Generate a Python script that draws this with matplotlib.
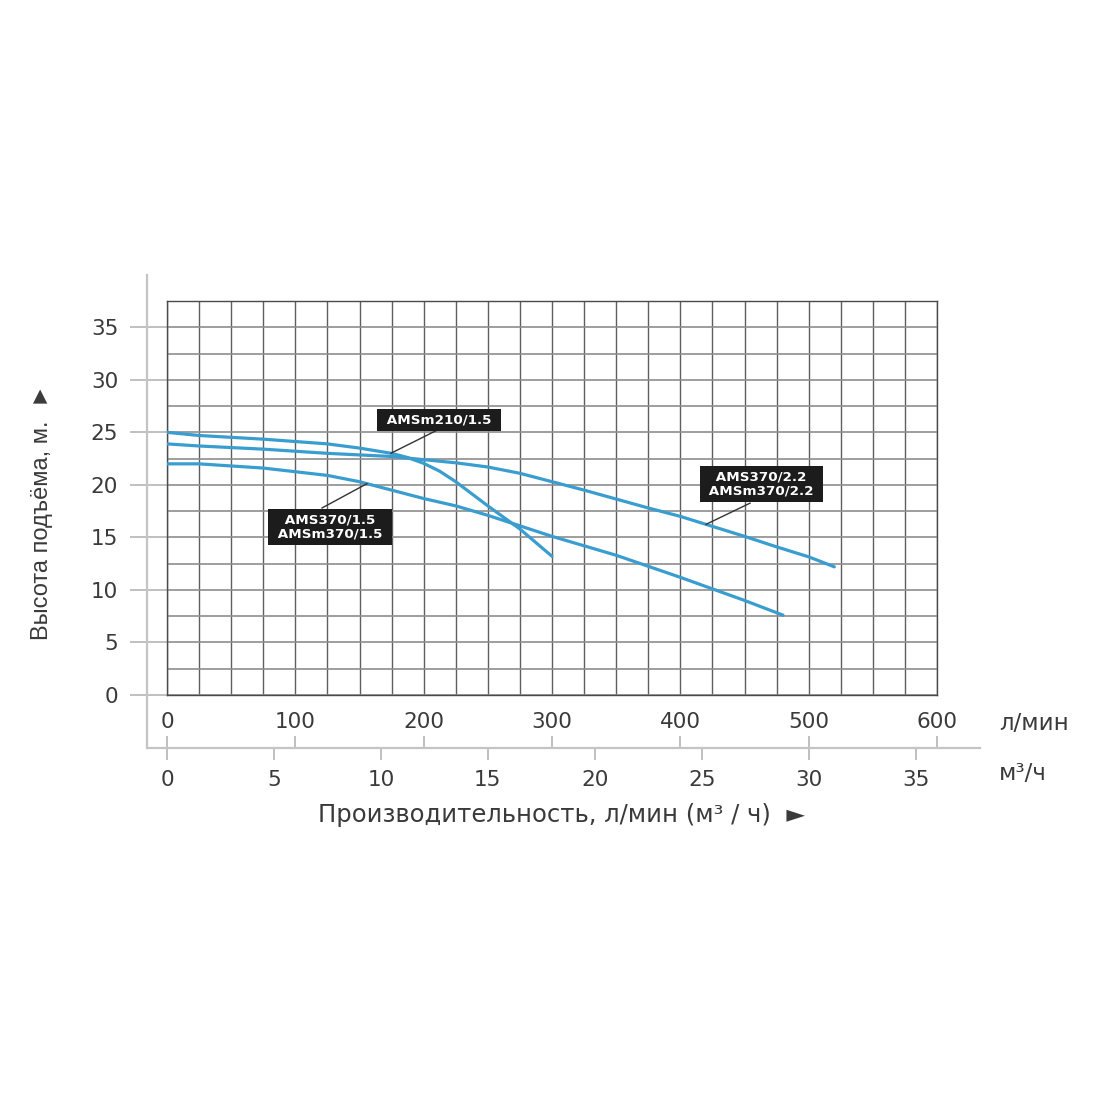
import numpy as np
import matplotlib
matplotlib.use("Agg")
import matplotlib.pyplot as plt
from matplotlib.lines import Line2D

plt.rcParams['font.family'] = ['DejaVu Sans']

# flow, l/min  and head, m
q_210_15 = [0, 25, 75, 125, 150, 175, 187.5, 200, 212.5, 225, 250, 275, 300]
h_210_15 = [25.0, 24.7, 24.35, 23.9, 23.5, 23.0, 22.6, 22.05, 21.3, 20.3, 18.0, 15.8, 13.2]

q_370_22 = [0, 25, 75, 125, 175, 225, 250, 275, 300, 325, 350, 375, 400, 425, 450, 475, 500, 520]
h_370_22 = [23.9, 23.7, 23.4, 23.0, 22.7, 22.1, 21.7, 21.1, 20.3, 19.5, 18.65, 17.8, 17.0,
            16.05, 15.1, 14.1, 13.15, 12.2]

q_370_15 = [0, 25, 75, 125, 150, 175, 200, 225, 250, 300, 350, 400, 450, 480]
h_370_15 = [22.0, 22.0, 21.6, 20.9, 20.3, 19.5, 18.7, 18.0, 17.1, 15.1, 13.3, 11.2, 9.0, 7.6]

lpm_ticks = [0, 100, 200, 300, 400, 500, 600]
m3h_ticks = [0, 5, 10, 15, 20, 25, 30, 35]
head_ticks = [0, 5, 10, 15, 20, 25, 30, 35]

labels = ["AMSm210/1.5", "AMS370/1.5\nAMSm370/1.5", "AMS370/2.2\nAMSm370/2.2"]

blue = '#3a9dd0'
txt = '#3a3a3a'

fig = plt.figure(figsize=(11, 11), dpi=100)
W = 1100.0

def fx(px):
    return px / W

def fy(py):
    return 1 - py / W

ax = fig.add_axes([fx(167), fy(695), fx(937) - fx(167), fy(301) - fy(695)])
ax.set_xlim(0, 600)
ax.set_ylim(0, 37.5)

ax.set_xticks(np.arange(0, 601, 25))
ax.set_yticks(head_ticks)
ax.set_yticks(np.arange(0, 37.6, 2.5), minor=True)
ax.tick_params(axis='x', length=0, labelbottom=False)
ax.tick_params(axis='y', which='major', length=26.6, width=1.2, color='#b5b5b5',
               pad=8.5, labelsize=15.5, labelcolor=txt)
ax.tick_params(axis='y', which='minor', length=0)
ax.grid(axis='x', color='#5e5e5e', lw=1.0)
ax.grid(axis='y', which='both', color='#8e8e8e', lw=1.2)
for s in ax.spines.values():
    s.set_color('#4a4a4a')
    s.set_linewidth(1.0)
ax.set_axisbelow(True)

# pump curves
for q, h in [(q_210_15, h_210_15), (q_370_22, h_370_22), (q_370_15, h_370_15)]:
    ax.plot(q, h, color=blue, lw=2.3, solid_capstyle='round', solid_joinstyle='round', zorder=3)

# callouts: box centre, leader start, curve x where leader ends
callouts = [
    (labels[0], (212, 26.16), (210.4, 25.2), 174.5, q_210_15, h_210_15),
    (labels[1], (127, 16.0), (120.8, 17.8), 155.8, q_370_15, h_370_15),
    (labels[2], (463, 20.07), (454.3, 18.26), 420, q_370_22, h_370_22),
]
for lab, c, start, qx, q, h in callouts:
    hy = np.interp(qx, q, h)
    ax.plot([start[0], qx], [start[1], hy], color='#333333', lw=1.0, zorder=4)
    lines = lab.split('\n')
    lab_txt = '\n'.join(' ' + s + ' ' for s in lines)
    ax.text(c[0], c[1], lab_txt, ha='center', va='center', color='white',
            fontsize=9.7, fontweight='bold', linespacing=1.05,
            bbox=dict(boxstyle='square,pad=0.33', fc='#1c1c1c', ec='none'), zorder=5)

# flow scales under the grid
x0 = (147 - 167) / (770 / 600)
x1 = (980 - 167) / (770 / 600)
ax2 = fig.add_axes([fx(147), fy(748), fx(980) - fx(147), 0.0001])
ax2.set_xlim(x0, x1)
ax2.set_ylim(0, 1)
ax2.patch.set_visible(False)
for k in ['left', 'right', 'top']:
    ax2.spines[k].set_visible(False)
ax2.spines['bottom'].set_color('#c4c4c4')
ax2.spines['bottom'].set_linewidth(1.6)
ax2.set_yticks([])
ax2.set_xticks([m * 1000 / 60 for m in m3h_ticks])
ax2.set_xticklabels([str(m) for m in m3h_ticks])
ax2.tick_params(axis='x', bottom=True, top=False, direction='out', length=8.6,
                width=1.2, color='#b5b5b5', pad=7, labelsize=15.5, labelcolor=txt)
sec = ax2.secondary_xaxis('top')
sec.set_xticks(lpm_ticks)
sec.set_xticklabels([str(v) for v in lpm_ticks])
sec.spines['top'].set_visible(False)
sec.tick_params(axis='x', direction='out', length=8.6, width=1.2, color='#b5b5b5',
                pad=3, labelsize=15.5, labelcolor=txt)

# left frame line
fig.add_artist(Line2D([fx(147), fx(147)], [fy(275), fy(748)], color='#c4c4c4', lw=1.6,
                      transform=fig.transFigure))

fig.text(fx(999), fy(724), 'л/мин', fontsize=16.5, color=txt, ha='left', va='center')
fig.text(fx(999), fy(773), 'м³/ч', fontsize=16.5, color=txt, ha='left', va='center')

fig.text(fx(561), fy(815), 'Производительность, л/мин (м³ / ч)  ►', fontsize=17.5,
         color=txt, ha='center', va='center')
fig.text(fx(42), fy(512), 'Высота подъёма, м.  ►', fontsize=17, color=txt,
         family='Liberation Sans', rotation=90, ha='center', va='center')

fig.savefig('out.png', dpi=100, facecolor='white')
